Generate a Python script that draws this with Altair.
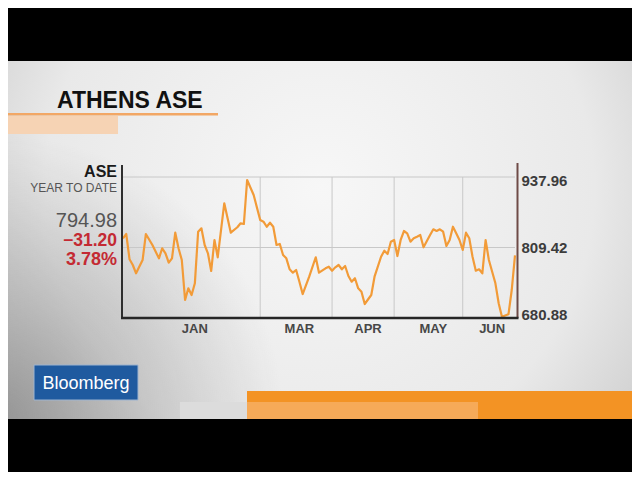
import altair as alt
import pandas as pd

# ASE close, year to date (x = trading day index)
day = [0, 1, 2, 3, 4, 6, 7, 9, 11, 12, 13, 14, 15, 16, 17, 18, 19, 20, 21, 22,
       23, 24, 25, 26, 27, 28, 29, 31, 33, 35, 36, 37, 38, 40, 42, 43, 44, 45, 46, 47,
       48, 49, 50, 51, 52, 53, 54, 55, 57, 59, 60, 62, 63, 64, 65, 66, 67, 68, 69, 70,
       71, 72, 73, 74, 76, 77, 79, 80, 81, 82, 83, 84, 85, 86, 87, 88, 89, 90, 91, 92,
       94, 95, 96, 97, 98, 99, 100, 101, 102, 103, 104, 105, 106, 107, 108, 109, 110, 111, 112, 114,
       115, 116, 118, 119, 120]
close = [826.2, 834.0, 787.9, 777.5, 762.4, 786.6, 834.0, 814.0, 789.7, 808.0,
         798.8, 781.7, 789.7, 836.4, 808.0, 786.6, 713.7, 735.0, 722.8, 744.1,
         838.2, 844.4, 814.0, 798.8, 766.6, 823.1, 791.6, 890.0, 836.4, 846.3,
         853.5, 852.3, 932.5, 905.1, 859.6, 856.5, 847.3, 854.6, 847.3, 814.0,
         815.8, 795.7, 789.7, 769.7, 763.5, 768.4, 747.1, 724.6, 756.2, 791.6,
         763.5, 771.5, 774.4, 767.1, 773.3, 777.5, 769.7, 775.7, 757.5, 747.1,
         753.3, 735.0, 728.8, 706.4, 722.8, 756.2, 792.6, 803.6, 797.6, 820.0,
         823.1, 793.9, 823.1, 839.5, 835.3, 820.0, 826.2, 829.1, 832.2, 809.8,
         832.2, 842.6, 839.5, 842.6, 838.2, 812.2, 823.1, 847.3, 835.3, 823.1,
         804.9, 836.4, 826.2, 792.6, 767.1, 769.7, 762.4, 823.1, 786.6, 744.1,
         707.7, 683.2, 687.6, 731.9, 795.0]

y_ticks = [680.88, 809.42, 937.96]
month_grid = [42, 64, 83, 104]
month_names = ["JAN", "MAR", "APR", "MAY", "JUN"]
month_pos = [22, 54, 75, 95, 113]

FONT = "Liberation Sans"
ORANGE = "#f29b38"
RED = "#c42a33"

df = pd.DataFrame({"day": day, "close": close})
grid_df = pd.DataFrame({"day": month_grid})
hgrid_df = pd.DataFrame({"close": y_ticks[1:]})
lab_df = pd.DataFrame({"day": month_pos, "name": month_names})
one = alt.Data(values=[{}])

xs = alt.Scale(domain=[0, 120], nice=False, zero=False)
ys = alt.Scale(domain=[y_ticks[0], y_ticks[-1]], nice=False, zero=False)
y_axis = alt.Axis(orient="right", values=y_ticks, format=".2f", grid=False, title=None,
                  domain=False, ticks=False, labelFont=FONT, labelFontSize=15,
                  labelFontWeight="bold", labelColor="#3c3c3c", labelPadding=6,
                  labelFlush=True, labelFlushOffset=4, zindex=1)


def box(color, x, x2, y, y2, **kw):
    return alt.Chart(one).mark_rect(color=color, **kw).encode(
        x=alt.value(x), x2=alt.value(x2), y=alt.value(y), y2=alt.value(y2))


def label(text, x, y, size, color, weight="normal", align="right"):
    return alt.Chart(one).mark_text(
        text=text, font=FONT, fontSize=size, fontWeight=weight, color=color,
        align=align, baseline="alphabetic").encode(x=alt.value(x), y=alt.value(y))


backdrop = alt.Gradient(
    gradient="radial",
    stops=[alt.GradientStop(color="#f7f7f7", offset=0),
           alt.GradientStop(color="#e9e9e9", offset=0.55),
           alt.GradientStop(color="#b8b8b8", offset=1)],
    x1=0.5, y1=0.42, r1=0, x2=0.5, y2=0.42, r2=0.78)
shade = alt.Gradient(
    gradient="radial",
    stops=[alt.GradientStop(color="rgba(110,110,110,0.6)", offset=0),
           alt.GradientStop(color="rgba(120,120,120,0.25)", offset=0.6),
           alt.GradientStop(color="rgba(130,130,130,0)", offset=1)],
    x1=0, y1=1, r1=0, x2=0, y2=1, r2=1)

layers = [
    box(backdrop, -123, 517, -116, 242),
    box(shade, -123, 160, -41, 242),
    box("#000000", -123, 517, -200, -116),
    box("#000000", -123, 517, 242, 320),
    # title strip
    box("#f2a765", -123, 95, -64, -61.5),
    box("#f6d3b4", -123, -5, -61, -43),
    # bottom bars
    box("#dcdcdc", 57, 124, 225, 242),
    box("#f39324", 124, 517, 214, 242),
    box("#f6aa58", 124, 355, 225, 242),
    box("#1f5a9f", -89, 15, 188, 223, stroke="#9db3cf", strokeWidth=1),
    label("Bloomberg", -37, 212, 18, "#ffffff", align="center"),
    label("ATHENS ASE", -66, -69, 23, "#111111", weight="bold", align="left"),
    # left panel text
    label("ASE", -6, 0, 16, "#1a1a1a", weight="bold"),
    label("YEAR TO DATE", -6, 15, 12, "#555555"),
    label("794.98", -6, 50, 20, "#555555"),
    label("\u221231.20", -6, 69, 17.5, RED, weight="bold"),
    label("3.78%", -6, 88, 18, RED, weight="bold"),
    # grid
    alt.Chart(grid_df).mark_rule(color="#c8c8c8", strokeWidth=1).encode(
        x=alt.X("day:Q", scale=xs, axis=None), y=alt.value(0), y2=alt.value(141)),
    alt.Chart(hgrid_df).mark_rule(color="#c8c8c8", strokeWidth=1).encode(
        y=alt.Y("close:Q", scale=ys, axis=y_axis), x=alt.value(0), x2=alt.value(392)),
    # series
    alt.Chart(df).mark_line(color=ORANGE, strokeWidth=2.2, strokeJoin="round").encode(
        x=alt.X("day:Q", scale=xs, axis=None),
        y=alt.Y("close:Q", scale=ys, axis=y_axis)),
    # axis lines
    alt.Chart(one).mark_rule(color="#2e2e2e", strokeWidth=2).encode(
        x=alt.value(-1), y=alt.value(-12), y2=alt.value(141)),
    alt.Chart(one).mark_rule(color="#6e4b47", strokeWidth=2).encode(
        x=alt.value(394.5), y=alt.value(-14), y2=alt.value(141)),
    alt.Chart(one).mark_rule(color="#262626", strokeWidth=2.5).encode(
        x=alt.value(-2), x2=alt.value(395.5), y=alt.value(141)),
    # month labels
    alt.Chart(lab_df).mark_text(font=FONT, fontSize=13, fontWeight="bold", color="#474747",
                                baseline="middle").encode(
        x=alt.X("day:Q", scale=xs, axis=None), y=alt.value(152), text="name:N"),
]

chart = alt.layer(*layers).properties(
    width=392, height=141,
    autosize=alt.AutoSizeParams(type="none"),
    padding={"left": 115, "top": 169, "right": 117, "bottom": 154},
    background="#e6e6e6",
).configure_view(stroke=None)

chart.save("out.html", embed_options={"renderer": "svg", "actions": False})
